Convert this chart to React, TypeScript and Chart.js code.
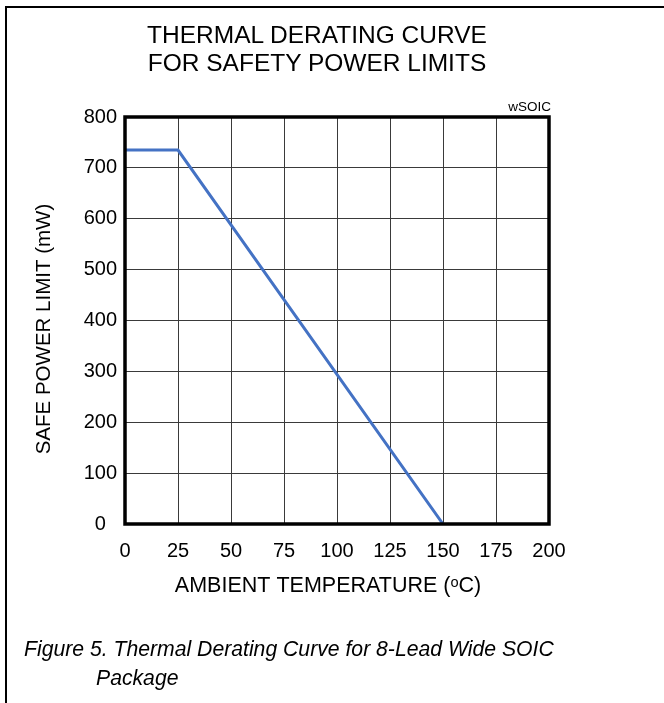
import React, { useEffect, useRef } from 'react';
import { Chart, registerables } from 'chart.js';

Chart.register(...registerables);

// ---- data ----
const temperatures = [0, 25, 150];
const safePowerMw = [735, 735, 0];
const xTickValues = [0, 25, 50, 75, 100, 125, 150, 175, 200];
const yTickValues = [0, 100, 200, 300, 400, 500, 600, 700, 800];
const titleLines = ['THERMAL DERATING CURVE', 'FOR SAFETY POWER LIMITS'];
const xAxisTitle = 'AMBIENT TEMPERATURE (ᵒC)   ';
const yAxisTitle = 'SAFE POWER LIMIT (mW)   ';
const packageLabel = 'wSOIC';
const captionLines = ['Figure 5. Thermal Derating Curve for 8-Lead Wide SOIC', 'Package'];

const FONT = "'Liberation Sans', Arial, Helvetica, sans-serif";

const plotFrame = {
  id: 'plotFrame',
  afterDatasetsDraw(chart: any) {
    const { ctx, chartArea: a } = chart;
    ctx.save();
    ctx.strokeStyle = '#000';
    ctx.lineWidth = 3.5;
    ctx.strokeRect(a.left, a.top, a.right - a.left, a.bottom - a.top);
    ctx.restore();
  },
};

export default function App() {
  const ref = useRef<HTMLCanvasElement | null>(null);

  useEffect(() => {
    if (!ref.current) return;
    const chart = new Chart(ref.current, {
      type: 'line',
      data: {
        datasets: [
          {
            label: 'Safe power limit',
            data: temperatures.map((t, i) => ({ x: t, y: safePowerMw[i] })),
            borderColor: '#4472C4',
            borderWidth: 3,
            pointRadius: 0,
            tension: 0,
            fill: false,
          },
        ],
      },
      options: {
        animation: false,
        responsive: false,
        maintainAspectRatio: false,
        layout: { padding: { top: 117, right: 115, left: 0, bottom: 0 } },
        plugins: {
          legend: { display: false },
          tooltip: { enabled: false },
          title: { display: false },
        },
        scales: {
          x: {
            type: 'linear',
            min: 0,
            max: 200,
            afterBuildTicks: (s: any) => {
              s.ticks = xTickValues.map((v) => ({ value: v }));
            },
            grid: { color: '#3a3a3a', lineWidth: 1, drawTicks: false },
            border: { display: false },
            ticks: {
              color: '#000',
              font: { family: FONT, size: 20 },
              padding: 15,
              maxRotation: 0,
              autoSkip: false,
            },
            title: {
              display: true,
              text: xAxisTitle,
              color: '#000',
              font: { family: FONT, size: 21.5 },
              padding: { top: 0, bottom: 104 },
            },
            afterFit: (s: any) => {
              s.height = 179;
            },
          },
          y: {
            type: 'linear',
            min: 0,
            max: 800,
            afterBuildTicks: (s: any) => {
              s.ticks = yTickValues.map((v) => ({ value: v }));
            },
            grid: { color: '#3a3a3a', lineWidth: 1, drawTicks: false },
            border: { display: false },
            ticks: {
              color: '#000',
              font: { family: FONT, size: 20 },
              padding: 8,
              crossAlign: 'center',
              autoSkip: false,
            },
            title: {
              display: true,
              text: yAxisTitle,
              color: '#000',
              font: { family: FONT, size: 20.5 },
              padding: { top: 32, bottom: 0 },
            },
            afterFit: (s: any) => {
              s.width = 125;
            },
          },
        },
      },
      plugins: [plotFrame],
    } as any);
    return () => chart.destroy();
  }, []);

  return (
    <div
      style={{
        position: 'fixed',
        left: 0,
        top: 0,
        width: 664,
        height: 703,
        background: '#fff',
        overflow: 'hidden',
        fontFamily: FONT,
        color: '#000',
      }}
    >
      <canvas
        ref={ref}
        width={664}
        height={703}
        style={{ position: 'absolute', left: 0, top: 0, width: 664, height: 703 }}
      />
      <div
        style={{
          position: 'absolute',
          left: 5,
          top: 6,
          width: 664,
          height: 703,
          borderLeft: '2px solid #000',
          borderTop: '2px solid #000',
          pointerEvents: 'none',
        }}
      />
      <div
        style={{
          position: 'absolute',
          left: 0,
          top: 21,
          width: 634,
          textAlign: 'center',
          fontSize: 24.5,
          lineHeight: '28px',
        }}
      >
        {titleLines.map((l) => (
          <div key={l}>{l}</div>
        ))}
      </div>
      <div
        style={{
          position: 'absolute',
          right: 113,
          top: 99,
          fontSize: 13.5,
          lineHeight: '16px',
          whiteSpace: 'nowrap',
        }}
      >
        {packageLabel}
      </div>
      <div
        style={{
          position: 'absolute',
          left: 24,
          top: 634,
          fontSize: 21.2,
          lineHeight: '29px',
          fontStyle: 'italic',
          whiteSpace: 'nowrap',
        }}
      >
        {captionLines[0]}
      </div>
      <div
        style={{
          position: 'absolute',
          left: 96,
          top: 663,
          fontSize: 21.2,
          lineHeight: '29px',
          fontStyle: 'italic',
          whiteSpace: 'nowrap',
        }}
      >
        {captionLines[1]}
      </div>
    </div>
  );
}
